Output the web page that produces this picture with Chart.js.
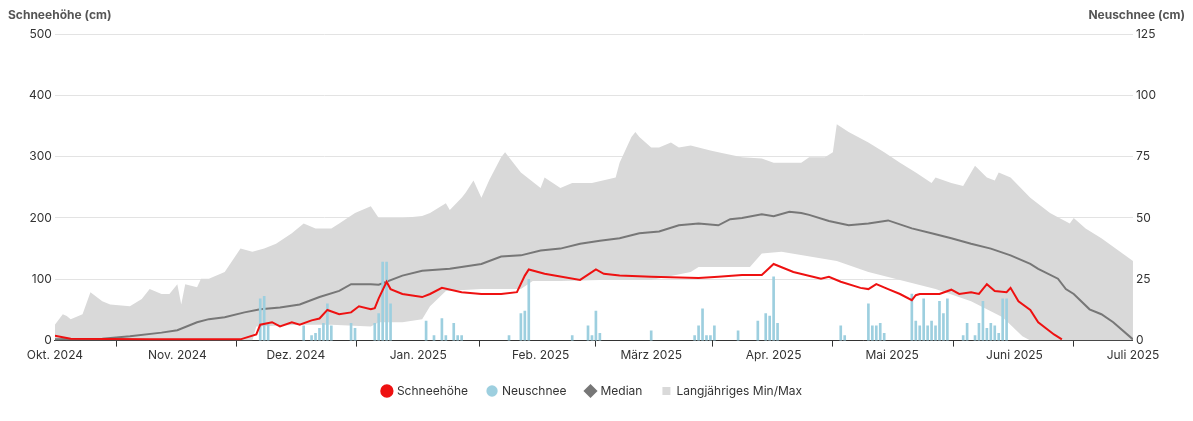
<!DOCTYPE html>
<html><head><meta charset="utf-8">
<script src="https://cdn.jsdelivr.net/npm/chart.js@4"></script>
<style>html,body{margin:0;padding:0;background:#fff}#w{width:1193px;height:421px}</style>
</head><body><div id="w"><canvas id="c"></canvas></div>
<script>
// x = day index since 1 Oct 2024
const monthDays = [0,31,61,92,123,151,182,212,243,273];
const monthLabels = ["Okt. 2024","Nov. 2024","Dez. 2024","Jan. 2025","Feb. 2025","März 2025","Apr. 2025","Mai 2025","Juni 2025","Juli 2025"];
const maxDays = [0,2,3,4,7,9,12,14,19,22,24,27,29,31,32,33,36,37,39,43,47,50,53,56,60,63,66,70,72,76,80,82,88,93,95,99,100,103,104,106,108,110,113,114,118,123,124,128,131,136,142,143,146,147,148,151,153,156,158,161,166,168,174,179,182,189,191,195,197,198,201,206,210,214,218,222,223,227,230,233,236,238,239,242,247,252,254,257,258,261,265,273];
const maxVals = [26,43,40,35,43,79,64,59,56,68,84,76,76,92,59,92,87,101,101,112,150,145,150,158,175,191,183,183,191,208,219,200,200,203,208,224,213,233,241,261,233,262,299,307,274,249,266,249,257,257,266,290,332,340,332,315,315,323,315,318,310,307,299,297,290,290,299,299,307,353,340,323,307,290,274,257,266,257,252,285,266,261,274,266,233,208,201,191,200,183,167,130];
const minDays = [0,50,51,62,70,80,82,88,93,95,99,108,118,121,128,138,151,161,163,176,179,184,198,206,215,223,232,240,245,247,273];
const minVals = [0,0,23,26,26,23,30,30,35,56,81,84,84,97,97,99,99,112,120,120,142,145,130,112,97,84,64,38,7,0,0];
const medDays = [0,12,19,27,31,36,39,43,48,52,57,62,67,72,75,80,82,88,93,100,108,113,118,123,128,133,138,143,148,153,158,163,168,171,174,179,182,186,189,191,196,201,206,211,217,222,227,232,237,242,247,249,254,256,258,262,265,268,273];
const medVals = [2,3,7,13,17,30,35,38,46,51,54,59,71,81,92,92,91,106,114,117,125,137,139,147,150,158,163,167,175,178,188,191,188,198,200,206,203,210,208,205,195,188,191,196,183,175,167,158,150,139,125,117,101,84,76,51,43,30,2];
const snowDays = [0,4,24,47,51,52,55,57,60,62,65,67,69,72,75,77,80,81,82,84,85,88,93,95,98,103,108,113,117,119,120,124,133,137,139,143,151,163,168,174,179,182,187,194,196,199,204,206,208,211,214,217,218,219,224,227,229,232,234,236,238,241,242,244,247,249,253,255];
const snowVals = [8,3,2,2,10,26,30,23,30,26,33,36,50,43,46,56,51,53,69,96,84,76,71,76,86,79,76,76,79,106,116,109,99,116,109,106,104,102,104,107,107,125,112,101,104,96,86,84,92,84,76,66,74,76,76,83,76,79,76,92,81,79,86,64,50,30,10,2];
const newDays = [52,53,54,63,65,66,67,68,69,70,75,76,81,82,83,84,85,94,96,98,99,101,102,103,115,118,119,120,131,135,136,137,138,151,162,163,164,165,166,167,173,178,180,181,182,183,199,200,206,207,208,209,210,217,218,219,220,221,222,223,224,225,226,230,231,233,234,235,236,237,238,239,240,241];
const newVals = [17,18,7,6,2,3,5,7,15,6,7,5,7,11,32,32,15,8,2,9,2,7,2,2,2,11,12,25,2,6,2,12,3,4,2,6,13,2,2,6,4,8,11,10,26,7,6,2,15,6,6,7,3,19,8,6,17,6,8,6,16,11,17,2,7,2,7,16,5,7,6,3,17,17];

const FONT = 'Inter, "Liberation Sans", sans-serif';
const pts = (d,v)=>d.map((x,i)=>({x,y:v[i]}));
const axisTitles = {id:'axt',afterDraw(ch){const c=ch.ctx;c.save();c.font='bold 12px '+FONT;c.fillStyle='#555';c.textBaseline='top';c.textAlign='left';c.fillText('Schneehöhe (cm)',8,9);c.textAlign='right';c.fillText('Neuschnee (cm)',1185,9);c.restore();}};
new Chart(document.getElementById('c'),{
  type:'line',
  data:{datasets:[
    {label:'Schneehöhe',data:pts(snowDays,snowVals),borderColor:'#ee1111',backgroundColor:'#ee1111',borderWidth:2,pointRadius:0,pointStyle:'circle',yAxisID:'y',order:1},
    {type:'bar',label:'Neuschnee',data:pts(newDays,newVals),backgroundColor:'#9dcfdf',borderWidth:0,barThickness:2,yAxisID:'y1',order:2,pointStyle:'circle'},
    {label:'Median',data:pts(medDays,medVals),borderColor:'#777',backgroundColor:'#777',borderWidth:2,pointRadius:0,pointStyle:'rectRot',yAxisID:'y',order:3},
    {label:'Langjähriges Min/Max',data:pts(maxDays,maxVals),borderWidth:0,borderColor:'#d9d9d9',backgroundColor:'#d9d9d9',pointRadius:0,fill:'+1',pointStyle:'rect',yAxisID:'y',order:4},
    {label:'min',data:pts(minDays,minVals),borderWidth:0,pointRadius:0,fill:false,yAxisID:'y',order:5}
  ]},
  options:{responsive:true,maintainAspectRatio:false,animation:false,
    layout:{padding:{top:34,left:26,right:34,bottom:14}},
    plugins:{tooltip:{enabled:false},
      legend:{position:'bottom',labels:{usePointStyle:true,boxWidth:8,boxHeight:8,padding:20,color:'#333',font:{size:12,family:FONT},filter:l=>l.text!=='min'}}},
    scales:{
      x:{type:'linear',min:0,max:273,offset:false,
        afterBuildTicks(a){a.ticks=monthDays.map(v=>({value:v}));},
        ticks:{callback:v=>monthLabels[monthDays.indexOf(v)],color:'#333',padding:2,font:{size:12,family:FONT},maxRotation:0,autoSkip:false},
        grid:{drawOnChartArea:false,tickLength:6,color:'#333'},border:{color:'#333'}},
      y:{min:0,max:500,ticks:{stepSize:100,color:'#333',font:{size:12,family:FONT}},grid:{color:'#e3e3e3',drawTicks:false},border:{display:false}},
      y1:{position:'right',min:0,max:125,ticks:{stepSize:25,color:'#333',font:{size:12,family:FONT}},grid:{display:false,drawTicks:false},border:{display:false}}
    }}
  ,plugins:[axisTitles]});
</script></body></html>
